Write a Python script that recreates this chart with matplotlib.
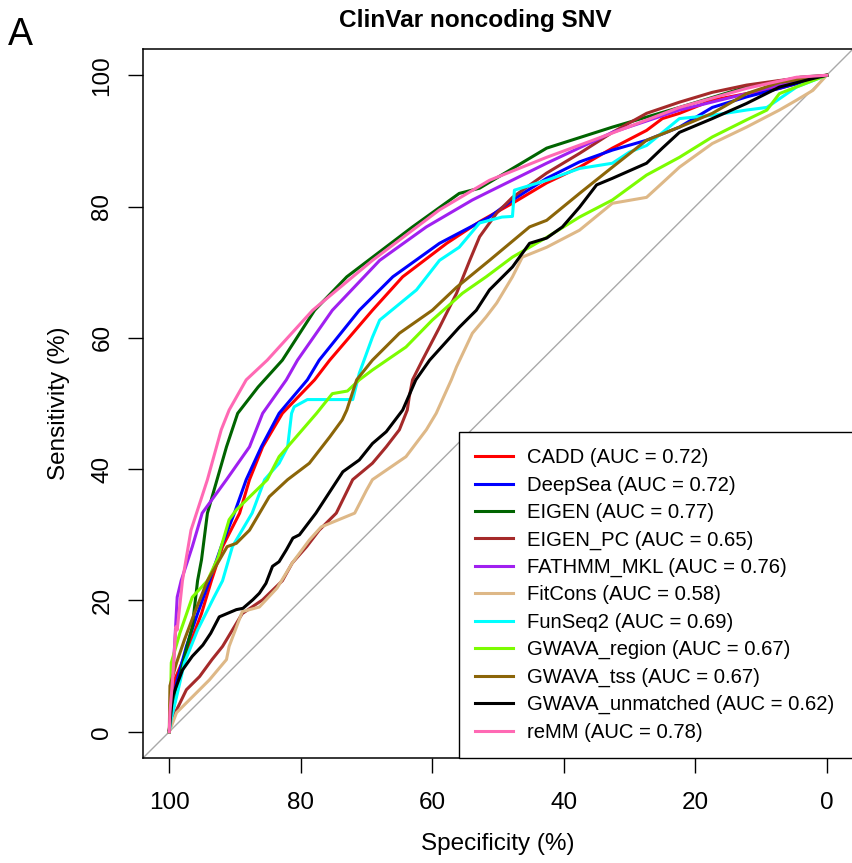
import matplotlib
matplotlib.use('Agg')
import matplotlib.pyplot as plt

plt.rcParams['font.family'] = ['Liberation Sans', 'DejaVu Sans']

# ROC curves: specificity (%) vs sensitivity (%)
cadd_spec = [100, 99.8, 99.2, 97, 95.1, 93.6, 91.9, 89.3, 87.8, 85.8, 82.8, 77.9, 75.6, 69.1, 64.5, 57.8, 52.8, 47.8, 42.6, 37.6, 32.6, 27.4, 25.0, 22.4, 17.4, 12.2, 7.2, 0]
cadd_sens = [0, 3, 7.9, 13, 18, 23, 28.2, 33.3, 38.4, 43.4, 48.5, 53.6, 56.6, 64.2, 69.3, 74.4, 77.7, 80.5, 83.6, 86, 88.9, 91.6, 93.4, 94.2, 96.2, 97.2, 98, 100]

deepsea_spec = [100, 99.8, 98.8, 97.4, 95.7, 93.9, 92.1, 90.1, 88.3, 86, 83.3, 79, 77.2, 71.1, 66, 58.9, 51.3, 47.8, 42.6, 37.6, 32.6, 27.4, 22.4, 17.4, 12.2, 7.2, 0]
deepsea_sens = [0, 3, 7.9, 13, 18, 23, 28.2, 33.3, 38.4, 43.4, 48.5, 53.6, 56.6, 64.2, 69.3, 74.4, 78.4, 81, 84.3, 86.8, 88.6, 90.1, 92.1, 95.1, 96.7, 98, 100]

eigen_spec = [100, 99.5, 98.5, 97.3, 96.5, 95.7, 95.1, 94.2, 91.3, 89.6, 86.5, 82.8, 77.9, 73, 63, 55.9, 52.8, 42.6, 32.6, 22.4, 12.2, 4, 0]
eigen_sens = [0, 3, 7.9, 13, 16, 23, 26.2, 33.3, 43.4, 48.5, 52.5, 56.6, 64.2, 69.3, 76.9, 82, 82.8, 88.9, 92.1, 95.1, 98.2, 99.7, 100]

eigenpc_spec = [100, 99.7, 98.9, 97.4, 95.4, 93.5, 91.9, 90.4, 88.9, 85.8, 82.8, 81.3, 79.1, 77.2, 74.6, 72.1, 69.1, 67, 65, 63.8, 63.5, 63, 61.5, 58.9, 56.3, 54.3, 52.8, 50.2, 47.8, 42.6, 37.6, 32.6, 27.4, 22.4, 17.4, 12.2, 7.2, 0]
eigenpc_sens = [0, 1.5, 3.3, 6.4, 8.4, 11, 13, 15.5, 18, 20.1, 23, 25.7, 28.2, 30.7, 33.3, 38.4, 40.9, 43.4, 46, 49, 51, 53.6, 56.6, 61.6, 66.8, 71.8, 75.4, 79, 81.4, 85.1, 88.1, 91.3, 94.2, 95.9, 97.4, 98.5, 99.2, 100]

fathmm_spec = [100, 99.7, 99.2, 98.8, 98.2, 96.5, 95, 91.3, 87.8, 85.8, 82.2, 80.5, 75.2, 68, 60.9, 53.9, 51.3, 42.6, 32.6, 22.4, 12.2, 7.2, 0]
fathmm_sens = [0, 5, 13, 20.5, 23, 28.2, 33.3, 38.4, 43.4, 48.5, 53.6, 56.6, 64.2, 71.8, 76.9, 81, 82.3, 86.6, 91.3, 94.7, 97.2, 98.5, 100]

fitcons_spec = [100, 98.9, 96.5, 93.9, 91.3, 90.9, 88.9, 86.3, 83.6, 81.3, 78.7, 76.9, 71.8, 70, 69.1, 64, 60.9, 59.4, 57.1, 56.3, 53.9, 51.8, 50.2, 47.8, 46.3, 42.6, 37.6, 32.6, 27.4, 25, 22.4, 17.4, 12.2, 7.2, 4.6, 2.1, 0]
fitcons_sens = [0, 2.9, 5.3, 7.9, 11, 13, 18.3, 19, 21.9, 25.7, 29.2, 31.2, 33.3, 36.8, 38.4, 41.9, 46, 48.5, 53.6, 55.6, 60.7, 63.2, 65.3, 69.3, 72.3, 73.8, 76.4, 80.5, 81.4, 83.6, 86, 89.6, 92.1, 94.7, 96.2, 97.7, 100]

funseq_spec = [100, 99.7, 98.9, 97.7, 95.7, 93.2, 91.9, 90.4, 87.4, 85.5, 83.3, 82, 81.4, 81, 79, 72.1, 71.1, 69.1, 68, 62.4, 58.9, 55.9, 52.8, 49.4, 47.8, 47.5, 42.6, 37.6, 32.6, 30, 27.4, 22.4, 17.4, 12.2, 9.1, 4.6, 0]
funseq_sens = [0, 2, 5.3, 10.5, 15.5, 20.5, 23, 28.2, 33.3, 38.4, 40.9, 43.4, 48.5, 49.5, 50.6, 50.6, 54.6, 60.1, 62.7, 67.3, 71.8, 73.8, 77.5, 78.4, 78.5, 82.5, 84, 85.8, 86.6, 88.3, 89.3, 93.4, 93.9, 94.7, 95.1, 98.2, 100]

gwreg_spec = [100, 99.8, 99.7, 98.4, 96.5, 94.2, 92.6, 90.9, 89.8, 85.1, 83.3, 77.6, 75.2, 72.9, 71.1, 69.1, 64, 60, 55.4, 51.8, 47.8, 42.6, 37.6, 32.6, 27.4, 22.4, 17.4, 12.2, 9.1, 7.2, 2.1, 0]
gwreg_sens = [0, 5, 10.5, 15, 20.5, 23, 26.5, 32.3, 33.8, 38.4, 41.9, 48.5, 51.5, 51.9, 53.6, 55.1, 58.6, 62.7, 66.8, 69.3, 72.3, 75.3, 78.4, 81, 84.8, 87.5, 90.6, 93.2, 94.7, 97.2, 99.2, 100]

gwtss_spec = [100, 99.9, 98.9, 97.7, 96.2, 94.2, 91.2, 89.8, 87.8, 84.8, 82, 78.7, 75.6, 73.7, 73, 71.5, 69.1, 65, 60, 56.3, 51.3, 45.2, 42.6, 37.6, 32.6, 27.4, 22.4, 17.4, 12.2, 7.2, 0]
gwtss_sens = [0, 7, 10.5, 14, 18, 23, 28.2, 28.7, 30.7, 35.8, 38.4, 40.9, 44.9, 47.5, 49, 53.6, 56.6, 60.7, 64.2, 67.7, 71.8, 76.9, 77.9, 82, 86, 90.1, 92.1, 94.2, 97.2, 98.9, 100]

gwunm_spec = [100, 99.5, 98, 96.5, 94.9, 93.7, 92.4, 89.8, 88.8, 87.3, 86.3, 85.3, 84.3, 83.3, 82.2, 81.2, 80.2, 77.7, 75.1, 73.6, 71.1, 69.1, 67, 64.5, 62.5, 60.4, 55.9, 53.3, 51.3, 47.8, 45.2, 42.6, 40.2, 37.6, 35, 32.6, 27.4, 25, 22.4, 17.4, 12.2, 7.2, 2.1, 0]
gwunm_sens = [0.3, 5.4, 9.4, 11.5, 13.2, 15, 17.5, 18.6, 18.8, 20.1, 21.1, 22.6, 25.2, 25.9, 27.7, 29.5, 30, 33.3, 37.3, 39.6, 41.4, 43.9, 45.7, 49, 53.6, 56.6, 61.6, 64.2, 67.3, 70.8, 74.4, 75.2, 76.9, 79.9, 83.3, 84.3, 86.6, 88.9, 91.3, 93.4, 95.7, 98.2, 99.5, 100]

remm_spec = [100, 99.9, 99.5, 99, 98.8, 98, 96.7, 94.2, 92.1, 90.9, 88.3, 85.1, 78.2, 69.1, 58.9, 51.3, 42.6, 32.6, 22.4, 12.2, 4.6, 0]
remm_sens = [0, 3, 7.9, 16, 15.5, 23, 30.7, 38.4, 46, 49, 53.6, 56.6, 64.2, 71.8, 79.5, 84, 87.5, 91.2, 95.1, 98, 99.7, 100]

names = ["CADD", "DeepSea", "EIGEN", "EIGEN_PC", "FATHMM_MKL", "FitCons",
         "FunSeq2", "GWAVA_region", "GWAVA_tss", "GWAVA_unmatched", "reMM"]
aucs = [0.72, 0.72, 0.77, 0.65, 0.76, 0.58, 0.69, 0.67, 0.67, 0.62, 0.78]
colors = ["#FF0000", "#0000FF", "#006400", "#A52A2A", "#A020F0", "#DEB887",
          "#00FFFF", "#7CFC00", "#8B6508", "#000000", "#FF69B4"]
specs = [cadd_spec, deepsea_spec, eigen_spec, eigenpc_spec, fathmm_spec, fitcons_spec,
         funseq_spec, gwreg_spec, gwtss_spec, gwunm_spec, remm_spec]
senss = [cadd_sens, deepsea_sens, eigen_sens, eigenpc_sens, fathmm_sens, fitcons_sens,
         funseq_sens, gwreg_sens, gwtss_sens, gwunm_sens, remm_sens]

fig = plt.figure(figsize=(8.52, 8.63), dpi=100)
ax = fig.add_axes([143/852, 105/863, 710/852, 709/863])

ax.set_xlim(104, -4)
ax.set_ylim(-4, 104)

# identity line
ax.plot([104, -4], [-4, 104], color='#A9A9A9', lw=1, zorder=1)

for nm, a, c, x, y in zip(names, aucs, colors, specs, senss):
    ax.plot(x, y, color=c, lw=2.2, label=f"{nm} (AUC = {a:.2f})", zorder=2)

ax.set_xticks([100, 80, 60, 40, 20, 0])
ax.set_yticks([0, 20, 40, 60, 80, 100])
ax.tick_params(axis='both', direction='out', length=10.8, width=1, labelsize=17.5)
ax.tick_params(axis='x', pad=14)
ax.tick_params(axis='y', pad=10.5)
plt.setp(ax.get_yticklabels(), rotation=90, va='center')
for s in ax.spines.values():
    s.set_linewidth(1.1)
ax.spines['right'].set_visible(False)

ax.set_xlabel("Specificity (%)", fontsize=17.5)
ax.set_ylabel("Sensitivity (%)", fontsize=17.5)
ax.xaxis.set_label_coords(0.5, -0.106)
ax.yaxis.set_label_coords(-0.103, 0.5)

leg_x0 = (459 - 143) / 710
leg = ax.legend(loc='lower left', bbox_to_anchor=(leg_x0, 0, 1.2 - leg_x0, 0.46),
                mode='expand', borderaxespad=0, fontsize=14.6, handlelength=1.87,
                handletextpad=0.7, labelspacing=0.41, borderpad=0.8,
                fancybox=False, edgecolor='black', framealpha=1)
leg.get_frame().set_linewidth(1.0)

fig.text(475/852, 1 - 27/863, "ClinVar noncoding SNV", ha='center', va='baseline',
         fontsize=17.6, fontweight='bold')
fig.text(8/852, 1 - 45/863, "A", ha='left', va='baseline', fontsize=27)

plt.savefig("out.png", dpi=100, facecolor='white')
plt.close()
